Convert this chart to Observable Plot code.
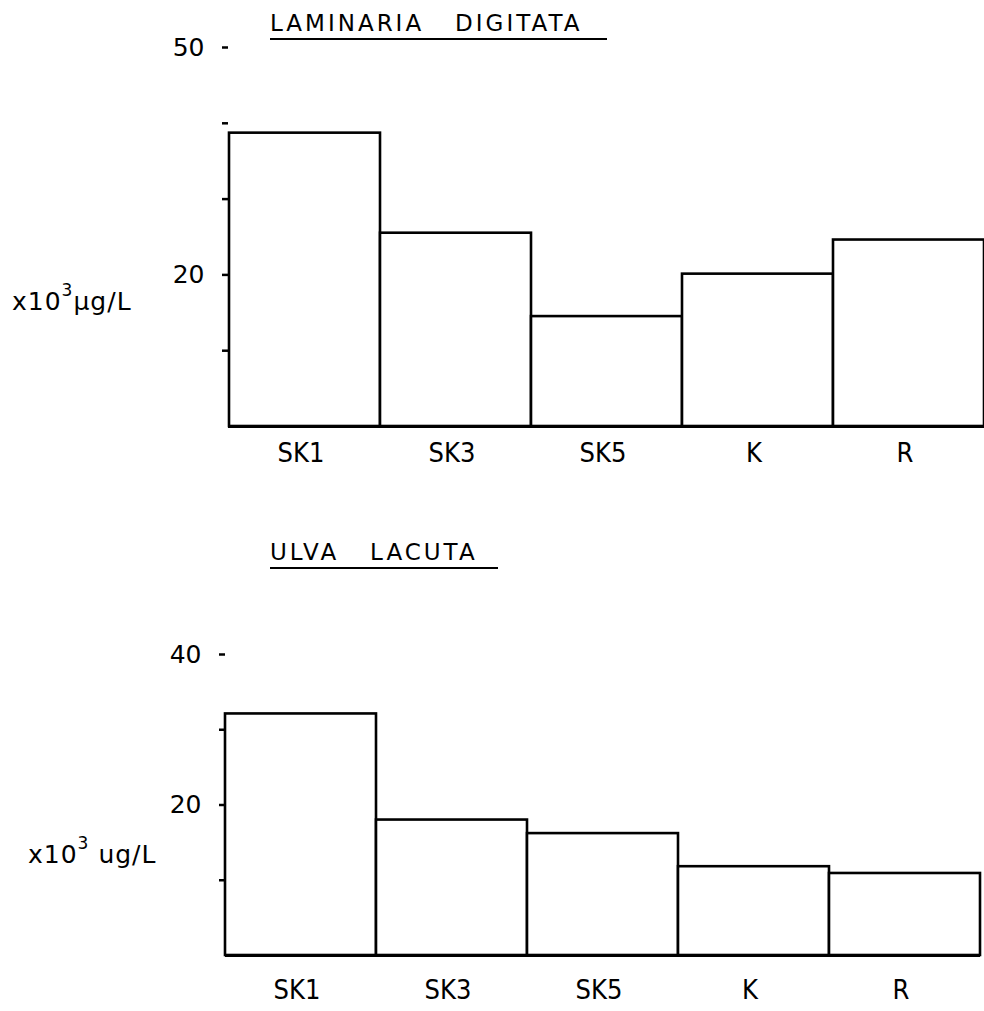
<!DOCTYPE html>
<html>
<head>
<meta charset="utf-8">
<script src="https://cdn.jsdelivr.net/npm/d3@7"></script>
<script src="https://cdn.jsdelivr.net/npm/@observablehq/plot@0.6"></script>
<style>
  html, body { margin: 0; padding: 0; background: #fff; }
  #root { position: relative; width: 984px; height: 1011px; overflow: hidden; background: #fff; }
  #root svg { position: absolute; left: 0; }
  .title { position: absolute; font-family: "DejaVu Sans", sans-serif; font-size: 23px; color: #000; white-space: pre; border-bottom: 2.5px solid #000; padding-bottom: 3px; line-height: 1; letter-spacing: 3px; }
  .unit { position: absolute; font-family: "DejaVu Sans", sans-serif; font-size: 25px; color: #000; white-space: pre; line-height: 1; letter-spacing: 1px; }
  .unit sup { font-size: 17px; position: relative; top: -5px; }
</style>
</head>
<body>
<div id="root"></div>
<script>
// ---- data ----
const categories = ["SK1", "SK3", "SK5", "K", "R"];
const laminariaValues = [38.7, 25.5, 14.5, 20.1, 24.6];
const ulvaValues = [32.1, 18.0, 16.2, 11.8, 10.9];
const topTicks = [10, 20, 30, 40, 50];
const topTickLabels = [20, 50];
const bottomTicks = [10, 20, 30, 40];
const bottomTickLabels = [20, 40];
const topTitle = "LAMINARIA   DIGITATA";
const bottomTitle = "ULVA   LACUTA";

const root = document.getElementById("root");

function chart(values, ticks, labels, yMax, opts) {
  const data = categories.map((c, i) => ({cat: c, val: values[i]}));
  return Plot.plot({
    width: 984,
    height: opts.height,
    marginLeft: opts.marginLeft,
    marginRight: opts.marginRight,
    marginTop: opts.marginTop,
    marginBottom: opts.marginBottom,
    style: {background: "white", color: "black", overflow: "visible"},
    x: {domain: categories, padding: 0, axis: null},
    y: {domain: [0, yMax], axis: null},
    marks: [
      Plot.barY(data, {x: "cat", y: "val", fill: "white", stroke: "black", strokeWidth: 2.6}),
      Plot.ruleY([0], {stroke: "black", strokeWidth: 3.2}),
      Plot.axisY({ticks: ticks, tickSize: 6, tickPadding: 18, strokeWidth: 2.5, label: null,
        tickFormat: d => labels.includes(d) ? String(d) : "",
        fontSize: 25, fontFamily: "DejaVu Sans, sans-serif"}),
      Plot.axisX({tickSize: 0, tickPadding: opts.xPad, fontSize: 27, label: null, dx: -4,
        fontFamily: "Liberation Sans Narrow, DejaVu Sans Condensed, sans-serif"})
    ]
  });
}

const c1 = chart(laminariaValues, topTicks, topTickLabels, 50,
  {height: 480, marginLeft: 228, marginRight: 0, marginTop: 47, marginBottom: 54, xPad: 16});
c1.style.top = "0px";
root.appendChild(c1);

const c2 = chart(ulvaValues, bottomTicks, bottomTickLabels, 40,
  {height: 511, marginLeft: 225, marginRight: 4, marginTop: 154, marginBottom: 56, xPad: 24});
c2.style.top = "500px";
root.appendChild(c2);

function addDiv(cls, html, left, top) {
  const d = document.createElement("div");
  d.className = cls;
  d.innerHTML = html;
  d.style.left = left + "px";
  d.style.top = top + "px";
  root.appendChild(d);
  return d;
}
const t1 = addDiv("title", topTitle, 270, 12);
t1.style.width = "337px";
const t2 = addDiv("title", bottomTitle, 270, 541);
t2.style.width = "228px";
addDiv("unit", "x10<sup>3</sup>\u00b5g/L", 12, 287);
addDiv("unit", "x10<sup>3</sup> ug/L", 28, 840);
</script>
</body>
</html>
